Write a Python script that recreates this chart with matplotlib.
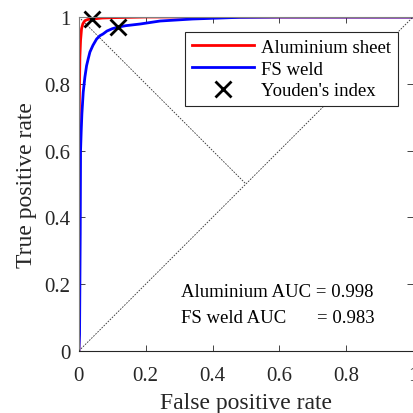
import matplotlib.pyplot as plt

plt.rcParams['font.family'] = ['Liberation Serif', 'DejaVu Serif']

# ROC curve points
alu_fpr = [0, 0.0, 0.001, 0.002, 0.003, 0.005, 0.008, 0.012, 0.018, 0.025, 0.033,
           0.05, 0.07, 0.1, 0.15, 0.2, 0.3, 1.0]
alu_tpr = [0, 0.5, 0.7, 0.8, 0.88, 0.93, 0.965, 0.98, 0.989, 0.992, 0.994,
           0.995, 0.997, 0.998, 0.999, 1.0, 1.0, 1.0]

fsw_fpr = [0, 0.002, 0.004, 0.005, 0.007, 0.009, 0.013, 0.018, 0.023, 0.028, 0.033,
           0.042, 0.053, 0.063, 0.072, 0.084, 0.1, 0.118, 0.14, 0.183, 0.243,
           0.34, 0.48, 0.6, 1.0]
fsw_tpr = [0, 0.05, 0.35, 0.6, 0.66, 0.71, 0.775, 0.82, 0.854, 0.875, 0.895,
           0.915, 0.934, 0.944, 0.949, 0.958, 0.965, 0.97, 0.974, 0.979, 0.988,
           0.994, 0.999, 1.0, 1.0]

youden_fpr = [0.038, 0.118]
youden_tpr = [0.994, 0.970]

auc_labels = ['Aluminium AUC', 'FS weld AUC']
auc_values = [0.998, 0.983]

fig = plt.figure(figsize=(4.13, 4.14), dpi=100)
ax = fig.add_axes([0.191, 0.150, 0.809, 0.8065])

# chance diagonal and the perpendicular to it
ax.plot([0, 1], [0, 1], color='0.2', lw=0.6, ls=(0, (2, 1.5)), zorder=3)
ax.plot([0, 0.5], [1, 0.5], color='0.2', lw=0.6, ls=(0, (2, 1.5)))

ax.plot(alu_fpr, alu_tpr, color='red', lw=2, label='Aluminium sheet')
ax.plot(fsw_fpr, fsw_tpr, color='blue', lw=2, label='FS weld')
ax.plot(youden_fpr, youden_tpr, 'x', color='black', ms=11, mew=2,
        label="Youden's index", clip_on=False)

ax.set_xlim(0, 1)
ax.set_ylim(0, 1)
ticks = [0, 0.2, 0.4, 0.6, 0.8, 1]
ticklabels = ['0', '0.2', '0.4', '0.6', '0.8', '1']
ax.set_xticks(ticks)
ax.set_xticklabels(ticklabels)
ax.set_yticks(ticks)
ax.set_yticklabels(ticklabels)
ax.tick_params(direction='in', length=4, width=0.6, top=True, right=True,
               labelsize=15, colors='0.15', pad=6)
ax.tick_params(axis='x', pad=11)
for s in ax.spines.values():
    s.set_color('0.15')
    s.set_linewidth(0.8)
ax.spines['top'].set_color('0.5')
ax.spines['left'].set_color('0.5')
ax.spines['right'].set_visible(False)

ax.set_xlabel('False positive rate', fontsize=17, color='0.15', labelpad=5)
ax.set_ylabel('True positive rate', fontsize=17, color='0.15', labelpad=5)

leg = ax.legend(loc='upper right', bbox_to_anchor=(0.955, 0.955), borderaxespad=0,
                fontsize=13.5, handlelength=3.3, handletextpad=0.4,
                labelspacing=0.25, borderpad=0.35, fancybox=False,
                framealpha=1, edgecolor='0.15')
leg.get_frame().set_linewidth(0.8)

ax.text(0.305, 0.163, f'{auc_labels[0]} = {auc_values[0]:.3f}', fontsize=13.5,
        transform=ax.transAxes)
ax.text(0.305, 0.088, auc_labels[1], fontsize=13.5, transform=ax.transAxes)
ax.text(0.886, 0.088, f'= {auc_values[1]:.3f}', fontsize=13.5, ha='right',
        transform=ax.transAxes)

fig.savefig('out.png', dpi=100)
